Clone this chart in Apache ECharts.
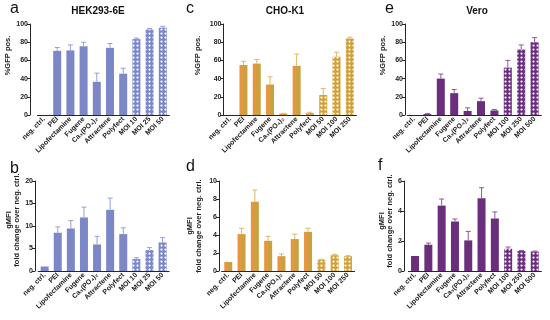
<!DOCTYPE html>
<html><head><meta charset="utf-8">
<script src="https://cdn.jsdelivr.net/npm/echarts@6/dist/echarts.min.js"></script>
<style>html,body{margin:0;padding:0;background:#fff}#c{width:550px;height:320px}</style>
</head><body><div id="c"></div>
<script>
// ---------- data ----------
const catsHEK  = ['neg. ctrl.','PEI','Lipofectamine','Fugene','Ca\u2083(PO\u2084)\u2082','Attractene','Polyfect','MOI 10','MOI 25','MOI 50'];
const catsCHO  = ['neg. ctrl.','PEI','Lipofectamine','Fugene','Ca\u2083(PO\u2084)\u2082','Attractene','Polyfect','MOI 50','MOI 100','MOI 250'];
const catsVero = ['neg. ctrl.','PEI','Lipofectamine','Fugene','Ca\u2083(PO\u2084)\u2082','Attractene','Polyfect','MOI 100','MOI 250','MOI 500'];

const gfpHEK     = [0, 70.5, 71, 75.5, 36.5, 73.8, 45.4, 83.4, 94, 96];
const gfpHEKErr  = [0, 3.7, 6, 4.5, 9.5, 4.8, 6, 1.1, 1, 1.4];
const mfiHEK     = [1, 8.5, 9.45, 11.9, 5.9, 13.6, 8.2, 2.65, 4.65, 6.35];
const mfiHEKErr  = [0, 1.3, 1.75, 2.3, 1.8, 2.6, 1.4, 0.3, 0.55, 1.05];

const gfpCHO     = [0, 55, 56.5, 33.5, 1.5, 54, 2, 22, 64, 84];
const gfpCHOErr  = [0, 4, 4.5, 8.5, 0.3, 13, 1, 7, 5, 1.5];
const mfiCHO     = [1, 4.1, 7.7, 3.35, 1.65, 3.55, 4.35, 1.25, 1.75, 1.65];
const mfiCHOErr  = [0, 0.65, 1.3, 0.5, 0.25, 0.55, 0.4, 0.05, 0.1, 0.05];

const gfpVero    = [0, 1, 40, 24, 4.4, 15.2, 5, 52, 72, 80];
const gfpVeroErr = [0, 0.5, 5, 4, 3.5, 3.3, 1, 8, 5, 5];
const mfiVero    = [1, 1.75, 4.36, 3.3, 2.04, 4.85, 3.5, 1.48, 1.33, 1.3];
const mfiVeroErr = [0, 0.11, 0.44, 0.17, 0.6, 0.7, 0.44, 0.12, 0.04, 0.03];

const axisGFP     = {min:0, max:100, interval:20};
const axisMfiHEK  = {min:0, max:20, interval:5};
const axisMfiCHO  = {min:0, max:10, interval:2};
const axisMfiVero = {min:0, max:6, interval:2};

const cellTitles = ['HEK293-6E','CHO-K1','Vero'];
const panelLetters = ['a','b','c','d','e','f'];
const nameGFP = '%GFP pos.';
const nameMFI = 'gMFI\nfold change over neg. ctrl.';

// ---------- styles / layout ----------
const FONT = 'Liberation Sans, Arial, sans-serif';
const colHEK  = {bar:'#7b87c6', err:'#96a0d4'};
const colCHO  = {bar:new echarts.graphic.LinearGradient(0,0,1,0,[{offset:0,color:'#ec9340'},{offset:0.35,color:'#e4973f'},{offset:0.5,color:'#cda03f'},{offset:1,color:'#c6a23f'}]), solid:'#cfa040', err:'#dcb866'};
const colVero = {bar:'#6a2e7c', err:'#8c5a9c'};

const panels = [
  {cats:catsHEK,  vals:gfpHEK,  errs:gfpHEKErr,  ax:axisGFP,     col:colHEK,  name:nameGFP, left:37.4, top:24,  width:132, height:91, yOff:7.4, gap:12, shift:28},
  {cats:catsHEK,  vals:mfiHEK,  errs:mfiHEKErr,  ax:axisMfiHEK,  col:colHEK,  name:nameMFI, left:38.1, top:181, width:131, height:90, yOff:3.1, gap:10, shift:12},
  {cats:catsCHO,  vals:gfpCHO,  errs:gfpCHOErr,  ax:axisGFP,     col:colCHO,  name:nameGFP, left:223.5,top:24,  width:133, height:91, yOff:0,   gap:21, shift:28},
  {cats:catsCHO,  vals:mfiCHO,  errs:mfiCHOErr,  ax:axisMfiCHO,  col:colCHO,  name:nameMFI, left:221.6,top:181, width:133, height:90, yOff:2.6, gap:16, shift:0},
  {cats:catsVero, vals:gfpVero, errs:gfpVeroErr, ax:axisGFP,     col:colVero, name:nameGFP, left:407.3,top:24,  width:134, height:91, yOff:2.3, gap:18, shift:28},
  {cats:catsVero, vals:mfiVero, errs:mfiVeroErr, ax:axisMfiVero, col:colVero, name:nameMFI, left:408.4,top:181, width:133, height:90, yOff:4.4, gap:9,  shift:10}
];

const axisLineStyle = {color:'#262626', width:1};
const grids = [], xAxes = [], yAxes = [], series = [];

panels.forEach((p, i) => {
  grids.push({left:p.left, top:p.top, width:p.width, height:p.height});
  xAxes.push({
    type:'category', gridIndex:i, data:p.cats, boundaryGap:true,
    axisLine:{lineStyle:axisLineStyle},
    axisTick:{alignWithLabel:true, length:3, lineStyle:axisLineStyle},
    axisLabel:{rotate:45, fontSize:7, fontFamily:FONT, color:'#222', margin:3, interval:0, fontWeight:'bold'}
  });
  yAxes.push({
    type:'value', gridIndex:i, min:p.ax.min, max:p.ax.max, interval:p.ax.interval, offset:p.yOff,
    name:p.name, nameLocation:'middle', nameGap:p.gap,
    nameTextStyle:{fontSize:7.5, fontFamily:FONT, color:'#222', lineHeight:8.5, fontWeight:'bold', padding:[0,0,0,p.shift]},
    axisLine:{show:true, lineStyle:axisLineStyle},
    axisTick:{show:true, length:3, lineStyle:axisLineStyle},
    splitLine:{show:false},
    axisLabel:{fontSize:7, fontFamily:FONT, color:'#222', margin:2, fontWeight:'bold'}
  });
  const solid = p.col.solid || p.col.bar;
  series.push({
    type:'bar', xAxisIndex:i, yAxisIndex:i, barWidth:8,
    data:p.vals.map((v, k) => {
      if (p.cats[k].startsWith('MOI')) {
        return {value:v, itemStyle:{color:solid, decal:{symbol:'circle', symbolSize:0.75, color:'#ffffff', dashArrayX:[3,0.8], dashArrayY:[3,0.8]}}};
      }
      return {value:v, itemStyle:{color:p.col.bar}};
    }),
    itemStyle:{borderWidth:0}
  });
  series.push({
    type:'custom', xAxisIndex:i, yAxisIndex:i, z:3,
    data:p.vals.map((v, k) => [k, v, p.errs[k]]),
    renderItem:(params, api) => {
      const x = api.value(0), y = api.value(1), e = api.value(2);
      if (!e) return null;
      const base = api.coord([x, y]);
      const top = api.coord([x, y + e]);
      const st = {stroke:p.col.err, lineWidth:1};
      return {type:'group', children:[
        {type:'line', shape:{x1:base[0], y1:base[1], x2:top[0], y2:top[1]}, style:st},
        {type:'line', shape:{x1:top[0]-2.5, y1:top[1], x2:top[0]+2.5, y2:top[1]}, style:st}
      ]};
    }
  });
});

const graphics = [];
const letterPos = [[10,1],[10,161],[186,1],[186,159],[385,1],[378,158]];
panelLetters.forEach((L, i) => {
  graphics.push({type:'text', x:letterPos[i][0], y:letterPos[i][1], style:{text:L, font:'16px ' + FONT, fill:'#111'}});
});
const titleX = [98, 285, 477];
cellTitles.forEach((t, i) => {
  graphics.push({type:'text', x:titleX[i], y:6, style:{text:t, font:'bold 10px ' + FONT, fill:'#111', textAlign:'center'}});
});

const chart = echarts.init(document.getElementById('c'));
chart.setOption({
  animation:false,
  backgroundColor:'#fff',
  grid:grids, xAxis:xAxes, yAxis:yAxes, series:series, graphic:graphics
});
</script></body></html>
